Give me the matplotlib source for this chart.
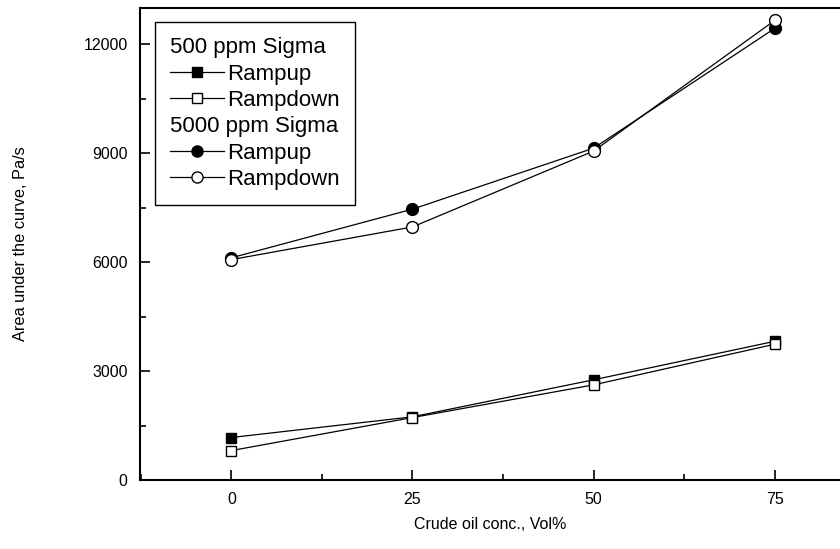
import matplotlib
matplotlib.use('Agg')
import matplotlib.pyplot as plt
from matplotlib.lines import Line2D
from matplotlib.ticker import MultipleLocator

plt.rcParams['font.family'] = ['Liberation Sans', 'DejaVu Sans']

conc = [0, 25, 50, 75]
low_up = [1170, 1740, 2760, 3820]
low_down = [810, 1720, 2620, 3740]
high_up = [6120, 7460, 9140, 12440]
high_down = [6070, 6970, 9060, 12660]

fig = plt.figure(figsize=(8.4, 5.49), dpi=100)
ax = fig.add_axes([0.1667, 0.1257, 0.8333, 0.8597])

kw = dict(color='black', linewidth=0.9, markeredgecolor='black', markeredgewidth=1.0)
ax.plot(conc, low_up, marker='s', markersize=7.5, markerfacecolor='black', **kw)
ax.plot(conc, low_down, marker='s', markersize=7.5, markerfacecolor='white', **kw)
ax.plot(conc, high_up, marker='o', markersize=8.5, markerfacecolor='black', **kw)
ax.plot(conc, high_down, marker='o', markersize=8.5, markerfacecolor='white', **kw)

ax.set_xlim(-12.6, 84)
ax.set_ylim(0, 13000)
ax.set_xticks(conc)
ax.set_yticks([0, 3000, 6000, 9000, 12000])
ax.xaxis.set_minor_locator(MultipleLocator(12.5))
ax.yaxis.set_minor_locator(MultipleLocator(1500))
ax.tick_params(which='both', direction='in', top=False, right=False, labelsize=11.5, width=1.2)
ax.tick_params(which='major', length=7, pad=9)
ax.tick_params(which='minor', length=4)
for s in ['left', 'bottom', 'top']:
    ax.spines[s].set_linewidth(1.5)
ax.spines['right'].set_visible(False)

ax.set_xlabel('Crude oil conc., Vol%', fontsize=11.5, labelpad=7)
ax.set_ylabel('Area under the curve, Pa/s', fontsize=11.8, labelpad=40)

blank = Line2D([], [], linestyle='none')
handles = [
    blank,
    Line2D([], [], marker='s', markersize=7, markerfacecolor='black', **kw),
    Line2D([], [], marker='s', markersize=7, markerfacecolor='white', **kw),
    blank,
    Line2D([], [], marker='o', markersize=8, markerfacecolor='black', **kw),
    Line2D([], [], marker='o', markersize=8, markerfacecolor='white', **kw),
]
labels = ['500 ppm Sigma', 'Rampup', 'Rampdown', '5000 ppm Sigma', 'Rampup', 'Rampdown']
headers = ['500 ppm Sigma', '5000 ppm Sigma']
leg = ax.legend(handles, labels, loc='upper left', bbox_to_anchor=(0.021, 0.97),
                fontsize=16, frameon=True, fancybox=False, edgecolor='black',
                framealpha=1, handlelength=2.45, handletextpad=0.15,
                labelspacing=0.24, borderpad=0.68, borderaxespad=0)
leg.get_frame().set_linewidth(1.0)

for col in leg._legend_handle_box.get_children():
    for row in col.get_children():
        da, ta = row.get_children()
        if ta.get_text() in headers:
            da.width = 0
            row.sep = 0

fig.savefig('out.png', dpi=100)
